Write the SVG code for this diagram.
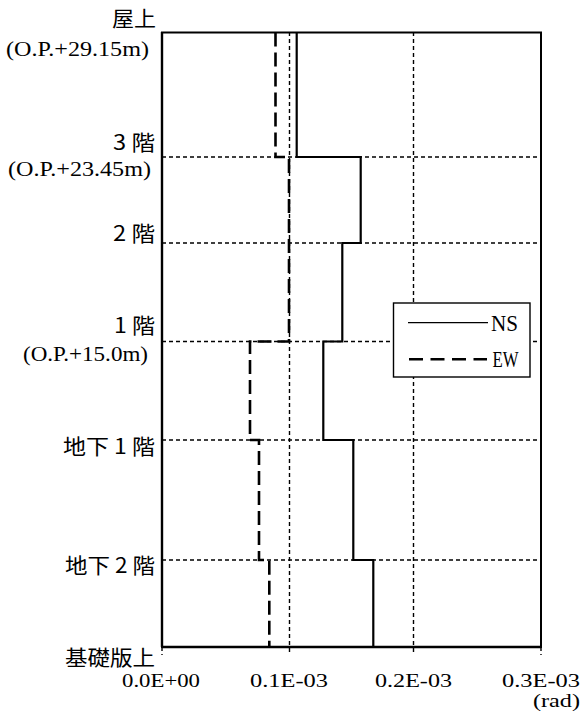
<svg xmlns="http://www.w3.org/2000/svg" width="587" height="717" viewBox="0 0 587 717">
<style>
.grid{fill:none;stroke:#000;stroke-width:1.4;stroke-dasharray:4 3}
.frame{fill:none;stroke:#000;stroke-width:2}
.ns{fill:none;stroke:#000;stroke-width:2.2}
.ew{fill:none;stroke:#000;stroke-width:2.6;stroke-dasharray:14 6}
.lbl{font-family:"Liberation Serif","Noto Sans CJK JP",serif;font-size:20px;fill:#000}
.cjk{font-family:"Noto Sans CJK JP","Liberation Serif",sans-serif;font-size:21px;fill:#000}
.tick{font-family:"Liberation Serif",serif;font-size:19px;fill:#000}
.leg{font-family:"Liberation Serif",serif;font-size:24px;fill:#000}
</style>
<rect width="587" height="717" fill="#fff"/>
<g id="grid">
<line class="grid" x1="289.5" y1="32" x2="289.5" y2="655"/>
<line class="grid" x1="413.5" y1="32" x2="413.5" y2="655"/>
<line class="grid" x1="162" y1="157" x2="541" y2="157"/>
<line class="grid" x1="162" y1="243" x2="541" y2="243"/>
<line class="grid" x1="162" y1="341.5" x2="541" y2="341.5"/>
<line class="grid" x1="162" y1="440" x2="541" y2="440"/>
<line class="grid" x1="162" y1="560" x2="541" y2="560"/>
<line class="grid" x1="162" y1="647" x2="162" y2="655"/>
<line class="grid" x1="541" y1="647" x2="541" y2="655"/>
</g>
<g id="frame">
<rect class="frame" x="162" y="32.5" width="379" height="614.5"/>
<line x1="162" y1="647" x2="541" y2="647" stroke="#000" stroke-width="2.6"/>
<line x1="162" y1="32" x2="162" y2="647" stroke="#000" stroke-width="2.4"/>
</g>
<g id="connectors">
<path id="ns-line" class="ns" d="M296.7,32.5 V157 H360.7 V243 H342.3 V341.5 H323.3 V440 H353.3 V560 H373.3 V647"/>
<path id="ew-line" class="ew" d="M275.5,32.5 V157 H289 V341.5 H250 V440 H259 V560 H269.3 V647"/>
</g>
<g id="legend">
<rect x="393.5" y="303" width="136.5" height="74" fill="#fff" stroke="#000" stroke-width="1.4"/>
<line x1="408" y1="322.7" x2="488" y2="322.7" stroke="#000" stroke-width="1.3"/>
<text class="leg" x="491" y="330.7" textLength="27" lengthAdjust="spacingAndGlyphs">NS</text>
<line x1="409" y1="359.3" x2="487" y2="359.3" stroke="#000" stroke-width="2.6" stroke-dasharray="14 7.5"/>
<text class="leg" x="492.5" y="367.3" textLength="26" lengthAdjust="spacingAndGlyphs">EW</text>
</g>
<g id="y-labels">
<text class="cjk" x="112" y="26" textLength="44" lengthAdjust="spacingAndGlyphs">屋上</text>
<text class="lbl" x="6" y="56" textLength="143" lengthAdjust="spacingAndGlyphs">(O.P.+29.15m)</text>
<text class="cjk" x="113" y="150" textLength="42" lengthAdjust="spacingAndGlyphs">3 階</text>
<text class="lbl" x="8" y="176" textLength="143" lengthAdjust="spacingAndGlyphs">(O.P.+23.45m)</text>
<text class="cjk" x="113" y="241" textLength="42" lengthAdjust="spacingAndGlyphs">2 階</text>
<text class="cjk" x="114" y="333" textLength="41" lengthAdjust="spacingAndGlyphs">1 階</text>
<text class="lbl" x="23" y="361" textLength="125" lengthAdjust="spacingAndGlyphs">(O.P.+15.0m)</text>
<text class="cjk" x="63" y="454" textLength="92" lengthAdjust="spacingAndGlyphs">地下 1 階</text>
<text class="cjk" x="65" y="573" textLength="90" lengthAdjust="spacingAndGlyphs">地下 2 階</text>
<text class="cjk" x="65" y="665" textLength="90" lengthAdjust="spacingAndGlyphs">基礎版上</text>
</g>
<g id="x-labels">
<text class="tick" x="122" y="687" textLength="78" lengthAdjust="spacingAndGlyphs">0.0E+00</text>
<text class="tick" x="250" y="687" textLength="78" lengthAdjust="spacingAndGlyphs">0.1E-03</text>
<text class="tick" x="375" y="687" textLength="77" lengthAdjust="spacingAndGlyphs">0.2E-03</text>
<text class="tick" x="502" y="687" textLength="78" lengthAdjust="spacingAndGlyphs">0.3E-03</text>
<text class="tick" x="533" y="707" font-size="17" textLength="47" lengthAdjust="spacingAndGlyphs">(rad)</text>
</g>
</svg>
